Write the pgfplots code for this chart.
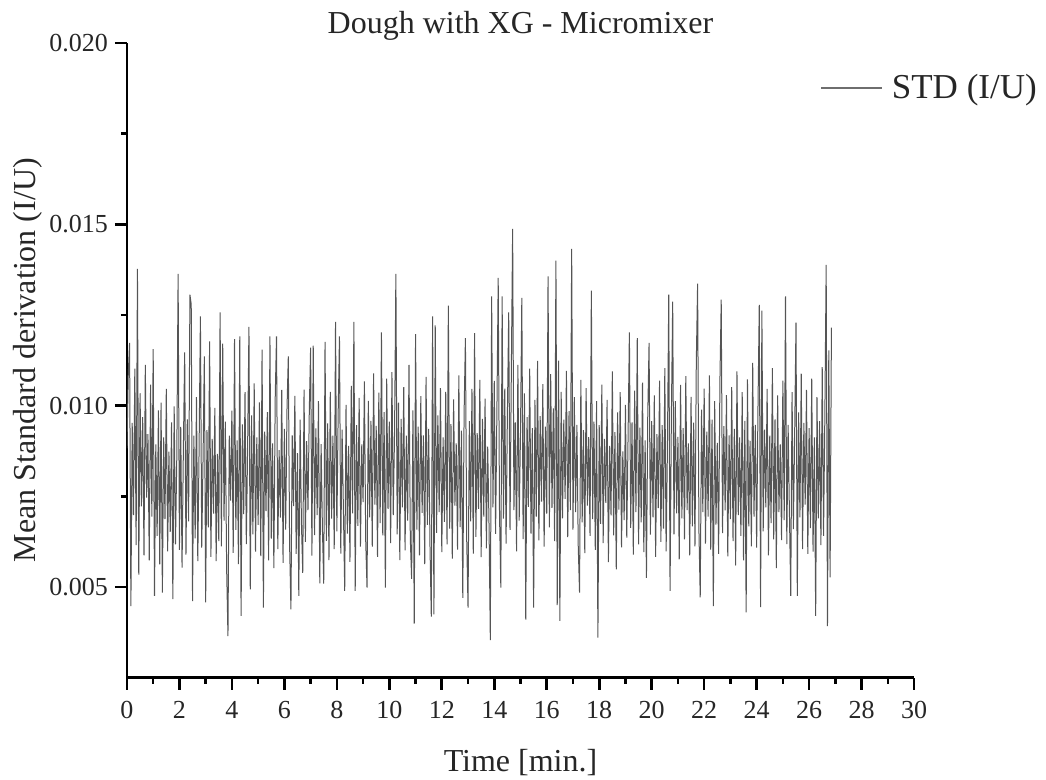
\documentclass[border=0pt]{standalone}
\usepackage{fontspec}
\setmainfont{Liberation Serif}
\usepackage{pgfplots}
\usepackage{pgfplotstable}
\pgfplotsset{compat=1.18}
\definecolor{linegray}{RGB}{85,85,85}
\definecolor{leggray}{RGB}{110,110,110}

% Mean standard deviation (I/U), sampled every 0.05 min from 0 to 26.85 min
\pgfplotstableread[row sep=\\]{
y\\
0.00882\\ 0.01085\\ 0.01173\\ 0.00447\\ 0.00952\\ 0.00698\\ 0.01102\\ 0.00615\\ 0.01377\\ 0.00534\\ 0.01034\\ 0.00722\\ 0.00968\\ 0.00587\\ 0.01112\\ 0.00746\\ 0.00921\\ 0.00573\\ 0.01058\\ 0.00694\\
0.01156\\ 0.00475\\ 0.00893\\ 0.00641\\ 0.00987\\ 0.00562\\ 0.01008\\ 0.00484\\ 0.00912\\ 0.00687\\ 0.01046\\ 0.00598\\ 0.00873\\ 0.00652\\ 0.00954\\ 0.00466\\ 0.00998\\ 0.00617\\ 0.00858\\ 0.01363\\
0.00602\\ 0.00941\\ 0.00553\\ 0.00876\\ 0.01147\\ 0.00589\\ 0.00962\\ 0.00681\\ 0.01306\\ 0.01279\\ 0.00461\\ 0.00917\\ 0.00634\\ 0.01023\\ 0.00571\\ 0.00884\\ 0.01246\\ 0.00608\\ 0.00851\\ 0.01136\\
0.00457\\ 0.00932\\ 0.00664\\ 0.01177\\ 0.00583\\ 0.00908\\ 0.00702\\ 0.00994\\ 0.00571\\ 0.00867\\ 0.00626\\ 0.01257\\ 0.00612\\ 0.01171\\ 0.00683\\ 0.00956\\ 0.00549\\ 0.00364\\ 0.00917\\ 0.00738\\
0.00986\\ 0.00594\\ 0.01183\\ 0.00657\\ 0.00904\\ 0.00563\\ 0.01191\\ 0.00420\\ 0.00948\\ 0.00701\\ 0.01037\\ 0.00618\\ 0.00889\\ 0.01217\\ 0.00493\\ 0.00973\\ 0.00645\\ 0.01061\\ 0.00597\\ 0.00912\\
0.00671\\ 0.01009\\ 0.00585\\ 0.01154\\ 0.00443\\ 0.00928\\ 0.00709\\ 0.00982\\ 0.00573\\ 0.01191\\ 0.00633\\ 0.00896\\ 0.00552\\ 0.01018\\ 0.01191\\ 0.00604\\ 0.00877\\ 0.00691\\ 0.01043\\ 0.00566\\
0.00936\\ 0.00658\\ 0.00991\\ 0.01136\\ 0.00614\\ 0.00438\\ 0.00918\\ 0.00723\\ 0.01027\\ 0.00591\\ 0.00869\\ 0.00475\\ 0.00961\\ 0.00678\\ 0.00539\\ 0.01044\\ 0.00624\\ 0.00902\\ 0.00712\\ 0.00985\\
0.01160\\ 0.00586\\ 0.01165\\ 0.00643\\ 0.00937\\ 0.00698\\ 0.01012\\ 0.00510\\ 0.00894\\ 0.00661\\ 0.00509\\ 0.01176\\ 0.00627\\ 0.00951\\ 0.00574\\ 0.01038\\ 0.00688\\ 0.00917\\ 0.00604\\ 0.01231\\
0.00653\\ 0.00978\\ 0.01191\\ 0.00592\\ 0.00934\\ 0.00716\\ 0.00489\\ 0.01002\\ 0.00647\\ 0.00889\\ 0.00569\\ 0.01054\\ 0.00703\\ 0.01231\\ 0.00489\\ 0.00946\\ 0.00668\\ 0.01021\\ 0.00611\\ 0.00893\\
0.00734\\ 0.01067\\ 0.00628\\ 0.00498\\ 0.01013\\ 0.00692\\ 0.00958\\ 0.00611\\ 0.01089\\ 0.00727\\ 0.00944\\ 0.00583\\ 0.01036\\ 0.00676\\ 0.01202\\ 0.00642\\ 0.00982\\ 0.00498\\ 0.01074\\ 0.00715\\
0.00956\\ 0.00621\\ 0.01092\\ 0.00698\\ 0.00927\\ 0.01363\\ 0.00645\\ 0.01008\\ 0.00574\\ 0.00963\\ 0.00719\\ 0.01051\\ 0.00601\\ 0.00917\\ 0.00683\\ 0.01112\\ 0.00632\\ 0.00522\\ 0.00987\\ 0.00399\\
0.01197\\ 0.00658\\ 0.00942\\ 0.00587\\ 0.01026\\ 0.00704\\ 0.00918\\ 0.00563\\ 0.01079\\ 0.00671\\ 0.00936\\ 0.00612\\ 0.00418\\ 0.01246\\ 0.00424\\ 0.01221\\ 0.00649\\ 0.00973\\ 0.00706\\ 0.01048\\
0.00596\\ 0.00912\\ 0.00679\\ 0.01038\\ 0.00617\\ 0.01276\\ 0.00661\\ 0.00949\\ 0.00578\\ 0.01017\\ 0.00724\\ 0.00896\\ 0.00603\\ 0.01083\\ 0.00665\\ 0.00931\\ 0.00470\\ 0.00978\\ 0.01186\\ 0.00628\\
0.00443\\ 0.00957\\ 0.00681\\ 0.01046\\ 0.00592\\ 0.01200\\ 0.00638\\ 0.00924\\ 0.00715\\ 0.01071\\ 0.00582\\ 0.00963\\ 0.00694\\ 0.01019\\ 0.00606\\ 0.00887\\ 0.00672\\ 0.00353\\ 0.01301\\ 0.00719\\
0.01068\\ 0.00646\\ 0.00982\\ 0.01352\\ 0.00701\\ 0.00498\\ 0.01301\\ 0.00688\\ 0.01047\\ 0.00619\\ 0.00973\\ 0.01257\\ 0.00657\\ 0.01089\\ 0.01487\\ 0.00712\\ 0.00954\\ 0.00598\\ 0.01112\\ 0.00683\\
0.00926\\ 0.01297\\ 0.00632\\ 0.01034\\ 0.00410\\ 0.00968\\ 0.00721\\ 0.01102\\ 0.00647\\ 0.00938\\ 0.00443\\ 0.01016\\ 0.00694\\ 0.01123\\ 0.00628\\ 0.00971\\ 0.00735\\ 0.01059\\ 0.00611\\ 0.00942\\
0.00702\\ 0.01356\\ 0.00664\\ 0.01087\\ 0.00718\\ 0.00992\\ 0.00626\\ 0.01400\\ 0.00450\\ 0.01124\\ 0.00406\\ 0.01038\\ 0.00689\\ 0.00961\\ 0.00743\\ 0.01096\\ 0.00637\\ 0.00985\\ 0.00712\\ 0.01432\\
0.00658\\ 0.01023\\ 0.00706\\ 0.00947\\ 0.00614\\ 0.00484\\ 0.01071\\ 0.00678\\ 0.00932\\ 0.00593\\ 0.01048\\ 0.00724\\ 0.00913\\ 0.00641\\ 0.01317\\ 0.00687\\ 0.00956\\ 0.00602\\ 0.01012\\ 0.00360\\
0.00946\\ 0.00674\\ 0.01058\\ 0.00621\\ 0.00908\\ 0.00732\\ 0.01016\\ 0.00568\\ 0.00889\\ 0.00697\\ 0.01094\\ 0.00642\\ 0.00927\\ 0.00548\\ 0.00981\\ 0.00713\\ 0.01037\\ 0.00609\\ 0.00874\\ 0.00684\\
0.01002\\ 0.00636\\ 0.00917\\ 0.01202\\ 0.00663\\ 0.00954\\ 0.00589\\ 0.01041\\ 0.00706\\ 0.01186\\ 0.00617\\ 0.00939\\ 0.00678\\ 0.01063\\ 0.00596\\ 0.00904\\ 0.00525\\ 0.00972\\ 0.01173\\ 0.00644\\
0.00957\\ 0.00692\\ 0.01028\\ 0.00583\\ 0.00921\\ 0.00717\\ 0.01069\\ 0.00624\\ 0.00946\\ 0.00661\\ 0.01103\\ 0.00598\\ 0.00883\\ 0.01306\\ 0.00489\\ 0.00968\\ 0.01287\\ 0.00645\\ 0.01012\\ 0.00703\\
0.00914\\ 0.00576\\ 0.01057\\ 0.00689\\ 0.00938\\ 0.00631\\ 0.01081\\ 0.00712\\ 0.00896\\ 0.00587\\ 0.01024\\ 0.00667\\ 0.00953\\ 0.00612\\ 0.01118\\ 0.01336\\ 0.00658\\ 0.00471\\ 0.00989\\ 0.00706\\
0.01047\\ 0.00619\\ 0.00928\\ 0.00694\\ 0.01083\\ 0.00603\\ 0.00961\\ 0.00447\\ 0.01012\\ 0.00672\\ 0.00897\\ 0.00591\\ 0.01066\\ 0.01292\\ 0.00648\\ 0.00943\\ 0.00711\\ 0.01029\\ 0.00584\\ 0.00918\\
0.00687\\ 0.01051\\ 0.00626\\ 0.00936\\ 0.00559\\ 0.01094\\ 0.00698\\ 0.00912\\ 0.00641\\ 0.01037\\ 0.00573\\ 0.00958\\ 0.00430\\ 0.01072\\ 0.00667\\ 0.00903\\ 0.00612\\ 0.01118\\ 0.00694\\ 0.00947\\
0.00608\\ 0.00989\\ 0.01278\\ 0.00444\\ 0.01262\\ 0.00653\\ 0.00934\\ 0.00719\\ 0.01046\\ 0.00587\\ 0.00917\\ 0.00676\\ 0.01103\\ 0.00631\\ 0.00962\\ 0.00552\\ 0.01028\\ 0.00706\\ 0.00893\\ 0.00629\\
0.01069\\ 0.00684\\ 0.01301\\ 0.00618\\ 0.00947\\ 0.00703\\ 0.00475\\ 0.01037\\ 0.00659\\ 0.00926\\ 0.01229\\ 0.00475\\ 0.00981\\ 0.00692\\ 0.01088\\ 0.00604\\ 0.00952\\ 0.00727\\ 0.01043\\ 0.00591\\
0.00938\\ 0.00662\\ 0.01074\\ 0.00597\\ 0.00912\\ 0.00420\\ 0.01023\\ 0.00689\\ 0.00957\\ 0.00615\\ 0.01106\\ 0.00641\\ 0.00973\\ 0.01388\\ 0.00392\\ 0.01152\\ 0.00526\\ 0.01215\\
}\stddata

\begin{document}
\begin{tikzpicture}
\begin{axis}[
  scale only axis,
  width=393.7pt, height=317.4pt,
  xmin=0, xmax=30, ymin=0.0025, ymax=0.020,
  axis x line*=bottom, axis y line*=left,
  axis line style={line width=1.3pt, black},
  xtick={0,2,...,30}, minor x tick num=1,
  ytick={0.005,0.010,0.015,0.020}, minor y tick num=1,
  tick align=outside,
  major tick length=6pt, minor tick length=3pt,
  major tick style={line width=1.3pt, black},
  minor tick style={line width=1.3pt, black},
  scaled y ticks=false,
  yticklabel style={/pgf/number format/.cd, fixed, fixed zerofill, precision=3, assume math mode=true},
  xticklabel style={/pgf/number format/assume math mode=true, yshift=-2.5pt},
  tick label style={font=\fontsize{13}{15}\selectfont, text=black!85},
  xlabel={Time [min.]},
  ylabel={Mean Standard derivation (I/U)},
  xlabel shift=8pt,
  ylabel shift=-3.5pt,
  label style={font=\fontsize{16}{19}\selectfont, text=black!85},
  title={Dough with XG - Micromixer},
  every axis title/.style={at={(0.5,1)}, anchor=base, yshift=4.8pt,
    font=\fontsize{16}{19}\selectfont, text=black!85},
  legend style={at={(1.169,0.929)}, anchor=east, draw=none, fill=none,
    font=\fontsize{17.5}{20}\selectfont, text=black!85},
  legend image code/.code={\draw[#1] (0pt,0pt) -- (30.5pt,0pt); \path (33pt,0pt);},
]
\addplot[color=linegray, line width=0.5pt, forget plot]
  table[x expr=\coordindex*0.05, y=y] {\stddata};
\addlegendimage{color=leggray, line width=0.6pt}
\addlegendentry{STD (I/U)}
\end{axis}
\pgfresetboundingbox
\path[use as bounding box] ([shift={(-63.5pt,-51pt)}]current axis.south west) rectangle ([shift={(66pt,21.5pt)}]current axis.north east);
\end{tikzpicture}
\end{document}
